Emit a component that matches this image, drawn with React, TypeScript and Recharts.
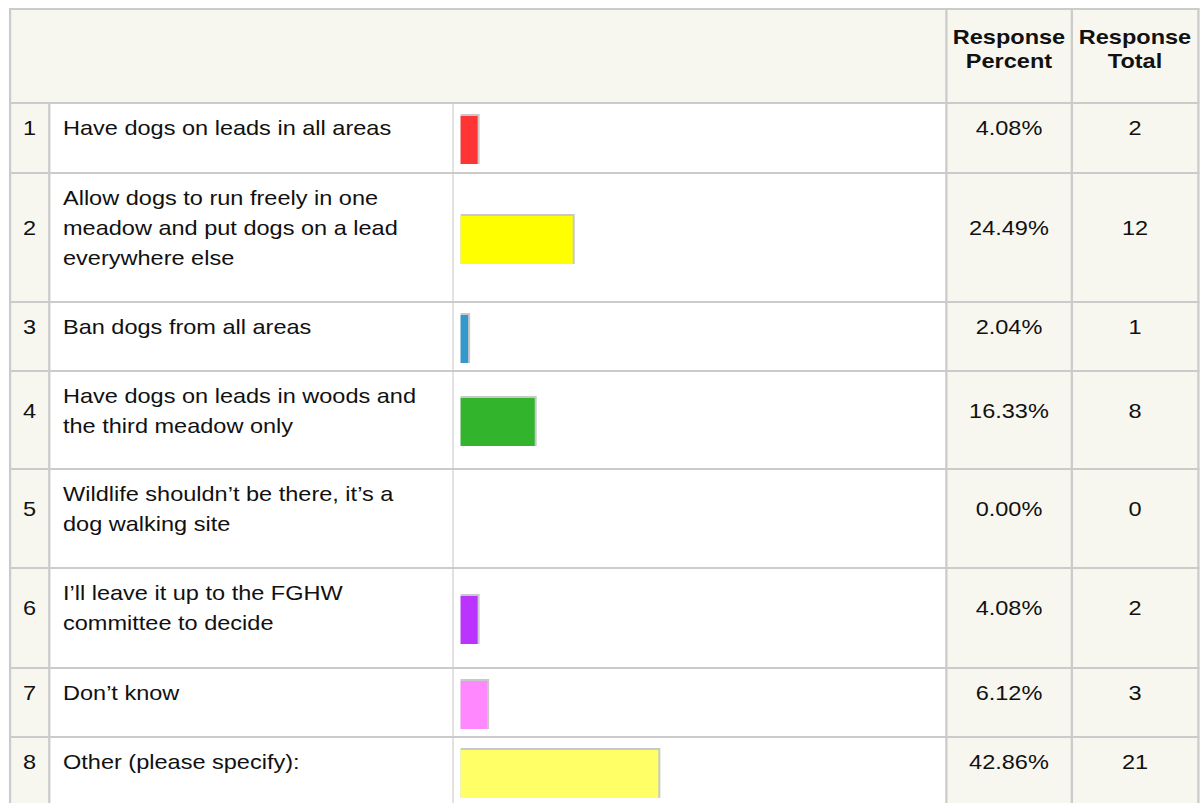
import { BarChart, Bar, XAxis, YAxis } from 'recharts'

// survey answers (line breaks as in the source table)
const answers = [
  'Have dogs on leads in all areas',
  'Allow dogs to run freely in one\nmeadow and put dogs on a lead\neverywhere else',
  'Ban dogs from all areas',
  'Have dogs on leads in woods and\nthe third meadow only',
  'Wildlife shouldn\u2019t be there, it\u2019s a\ndog walking site',
  'I\u2019ll leave it up to the FGHW\ncommittee to decide',
  'Don\u2019t know',
  'Other (please specify):',
]
const responsePercent = [4.08, 24.49, 2.04, 16.33, 0.0, 4.08, 6.12, 42.86]
const responseTotal = [2, 12, 1, 8, 0, 2, 3, 21]
const barColors = ['#ff3535', '#ffff00', '#3399cc', '#33b42d', '#cccccc', '#bb33ff', '#ff88ff', '#ffff66']
const headers = ['Response\nPercent', 'Response\nTotal']

// the source screenshot is stretched sideways, so the whole table is drawn narrower and scaled
const S = 1.12
const sx = (v: number) => v / S

const LINE = '#cbcbcb'
const CREAM = '#f7f7f0'
const lineYs = [8, 102, 172, 301, 370, 468, 567, 667, 736, 806]
const PAD_TOP = 8.5

function ShadowBar(props: any) {
  const { x, y, width, height, fill } = props
  if (!width || width <= 0) return <g />
  return (
    <g>
      <rect x={x} y={y} width={width} height={height} fill="#c8c8c8" />
      <rect x={x} y={y + 2} width={Math.max(0, width - sx(2))} height={height - 2} fill={fill} />
    </g>
  )
}

function Box({ l, r, t, b, style, children }: any) {
  return (
    <div style={{ position: 'absolute', left: sx(l), width: sx(r - l), top: t, height: b - t, ...style }}>
      {children}
    </div>
  )
}

export default function App() {
  const bottom = lineYs[lineYs.length - 1]
  return (
    <div style={{ position: 'absolute', left: 0, top: 0, width: 1201, height: 803, overflow: 'hidden', background: '#fff' }}>
      <div
        style={{
          position: 'absolute', left: 0, top: 0, width: sx(1201), height: 830,
          transform: `scaleX(${S})`, transformOrigin: '0 0',
          fontFamily: '"Liberation Sans", Arial, sans-serif', fontSize: 21, color: '#111',
        }}
      >
        {/* cream backgrounds */}
        <Box l={9} r={1199} t={8} b={104} style={{ background: CREAM }} />
        <Box l={9} r={50} t={102} b={bottom} style={{ background: CREAM }} />
        <Box l={945} r={1199} t={8} b={bottom} style={{ background: CREAM }} />

        {/* header text */}
        {headers.map((h, i) => (
          <Box key={h + i} l={i === 0 ? 947 : 1073} r={i === 0 ? 1071 : 1197} t={25} b={84}
            style={{ textAlign: 'center', fontWeight: 'bold', lineHeight: '24px', whiteSpace: 'pre-line' }}>
            {h}
          </Box>
        ))}

        {answers.map((a, i) => {
          const top = lineYs[i + 1] + 2
          const bot = lineYs[i + 2]
          const lines = a.split('\n')
          const textH = lines.length * 30
          const mid = { display: 'flex', alignItems: 'center', justifyContent: 'center' }
          return (
            <div key={i}>
              <Box l={11} r={48} t={top + PAD_TOP} b={top + PAD_TOP + textH} style={mid}>{i + 1}</Box>
              <Box l={50} r={452} t={top + PAD_TOP} b={top + PAD_TOP + textH}
                style={{ paddingLeft: sx(13), boxSizing: 'border-box', lineHeight: '30px' }}>
                {lines.map((ln, j) => <div key={j} style={{ whiteSpace: 'nowrap' }}>{ln}</div>)}
              </Box>
              <Box l={454} r={945} t={top} b={bot}>
                <BarChart
                  width={sx(491)}
                  height={bot - top}
                  data={[{ name: a, value: responsePercent[i] }]}
                  layout="vertical"
                  margin={{ top: 2, right: sx(491) - sx(7) - sx(466), left: sx(7), bottom: 0 }}
                >
                  <XAxis type="number" domain={[0, 100]} hide />
                  <YAxis type="category" dataKey="name" hide />
                  <Bar dataKey="value" fill={barColors[i]} barSize={50} isAnimationActive={false} shape={ShadowBar} />
                </BarChart>
              </Box>
              <Box l={947} r={1071} t={top + PAD_TOP} b={top + PAD_TOP + textH} style={mid}>
                {responsePercent[i].toFixed(2)}%
              </Box>
              <Box l={1073} r={1197} t={top + PAD_TOP} b={top + PAD_TOP + textH} style={mid}>
                {responseTotal[i]}
              </Box>
            </div>
          )
        })}

        {/* grid lines */}
        {lineYs.map(y => (
          <Box key={'h' + y} l={9} r={1199} t={y} b={y + 2} style={{ background: LINE }} />
        ))}
        <Box l={9} r={11} t={8} b={bottom + 2} style={{ background: LINE }} />
        <Box l={48} r={50} t={102} b={bottom + 2} style={{ background: LINE }} />
        <Box l={452} r={454} t={102} b={bottom + 2} style={{ background: LINE }} />
        <Box l={945} r={947} t={8} b={bottom + 2} style={{ background: LINE }} />
        <Box l={1071} r={1073} t={8} b={bottom + 2} style={{ background: LINE }} />
        <Box l={1197} r={1199} t={8} b={bottom + 2} style={{ background: LINE }} />
      </div>
    </div>
  )
}
